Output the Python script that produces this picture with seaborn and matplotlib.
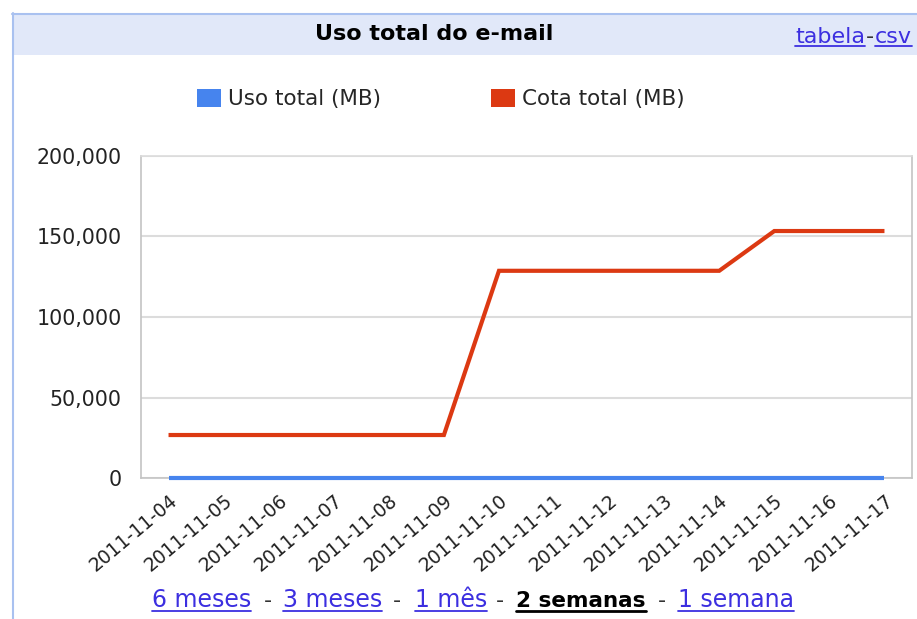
import numpy as np
import pandas as pd
import matplotlib
matplotlib.use("Agg")
import matplotlib.pyplot as plt
import seaborn as sns
from matplotlib.patches import Patch, Rectangle
from matplotlib.lines import Line2D
from matplotlib.ticker import FuncFormatter

# ---------------- data ----------------
dates = ['2011-11-04', '2011-11-05', '2011-11-06', '2011-11-07', '2011-11-08',
         '2011-11-09', '2011-11-10', '2011-11-11', '2011-11-12', '2011-11-13',
         '2011-11-14', '2011-11-15', '2011-11-16', '2011-11-17']
uso_total = [0, 0, 0, 0, 0, 0, 0, 0, 0, 0, 0, 0, 0, 0]
cota_total = [26700, 26700, 26700, 26700, 26700, 26700, 128700, 128700,
              128700, 128700, 128700, 153400, 153400, 153400]
series_names = ['Uso total (MB)', 'Cota total (MB)']
y_ticks = [0, 50000, 100000, 150000, 200000]
chart_title = 'Uso total do e-mail'
header_links = ['tabela', 'csv']
period_links = ['6 meses', '3 meses', '1 mês', '2 semanas', '1 semana']
active_period = '2 semanas'

# ---------------- style ----------------
sns.set_style('white')
plt.rcParams['font.family'] = ['DejaVu Sans']

BLUE = '#4684ee'
RED = '#dc3912'
LINK = '#3c2fe0'
GRID = '#dcdcdc'
AXC = '#c4c4c4'

W, H = 917, 619
fig = plt.figure(figsize=(W / 100, H / 100), dpi=100)
fig.patch.set_facecolor('white')

def fx(px):
    return px / W

def fy(py):
    return 1 - py / H

# header band and borders
fig.patches.append(Rectangle((fx(12), fy(55)), 1 - fx(12), (55 - 13) / H,
                             transform=fig.transFigure, facecolor='#e1e8f9',
                             edgecolor='none', zorder=0))
fig.lines.append(Line2D([fx(12), 1], [fy(13.5), fy(13.5)], transform=fig.transFigure,
                        color='#a9c1f0', lw=1.5))
fig.lines.append(Line2D([fx(12.5), fx(12.5)], [fy(13), 0], transform=fig.transFigure,
                        color='#a9c1f0', lw=1.5))

fig.text(fx(434), fy(40), chart_title, ha='center', va='baseline',
         fontsize=16, fontweight='bold', color='black')

# ---------------- plot ----------------
ax = fig.add_axes([fx(141), fy(478), fx(912) - fx(141), (478 - 156) / H])

df = pd.DataFrame({
    'idx': list(range(len(dates))) * 2,
    'valor': cota_total + uso_total,
    'serie': [series_names[1]] * len(dates) + [series_names[0]] * len(dates),
})
sns.lineplot(data=df, x='idx', y='valor', hue='serie',
             hue_order=[series_names[1], series_names[0]],
             palette={series_names[0]: BLUE, series_names[1]: RED},
             linewidth=3.0, ax=ax, legend=False)
for ln in ax.lines:
    ln.set_clip_on(False)
    ln.set_zorder(4)
    ln.set_solid_capstyle('butt')
    ln.set_solid_joinstyle('miter')

ax.set_xlim(-0.5, len(dates) - 0.5)
ax.set_ylim(y_ticks[0], y_ticks[-1])
ax.set_xlabel('')
ax.set_ylabel('')

ax.set_xticks(range(len(dates)))
ax.set_xticklabels(dates, rotation=40, ha='right', rotation_mode='anchor',
                   fontsize=13.5, color='#222222')
ax.tick_params(axis='x', which='major', length=0, pad=9)
ax.set_xticks(np.arange(-0.5, len(dates), 1.0), minor=True)
ax.tick_params(axis='x', which='minor', length=6, width=1, color=AXC)

ax.set_yticks(y_ticks)
ax.yaxis.set_major_formatter(FuncFormatter(lambda v, p: f'{v:,.0f}'))
ax.tick_params(axis='y', length=6, width=1, color=AXC, pad=8,
               labelsize=14.8, labelcolor='#222222')

ax.grid(axis='y', color=GRID, lw=1.5)
ax.grid(axis='x', visible=False)
ax.set_axisbelow(True)
for s in ax.spines.values():
    s.set_color(AXC)
    s.set_linewidth(1.2)
    s.set_visible(True)
ax.spines['top'].set_color(GRID)

# legend
handles = [Patch(facecolor=BLUE, edgecolor='none'), Patch(facecolor=RED, edgecolor='none')]
ax.legend(handles=handles, labels=series_names, ncol=2, loc='center left',
          bbox_to_anchor=(fx(197), fy(99)), bbox_transform=fig.transFigure,
          frameon=False, fontsize=15.5, handlelength=1.1, handleheight=0.95,
          handletextpad=0.35, columnspacing=5.1, borderpad=0, borderaxespad=0)

# ---------------- link texts ----------------
texts_to_underline = []

t1 = fig.text(fx(795), fy(43), header_links[0], ha='left', va='baseline',
              fontsize=16, color=LINK)
fig.canvas.draw()
r = fig.canvas.get_renderer()
bb = t1.get_window_extent(r)
th = fig.text(bb.x1 / W + fx(1), fy(43), '-', ha='left', va='baseline',
              fontsize=16, color='#333333')
bb2 = th.get_window_extent(r)
t2 = fig.text(bb2.x1 / W + fx(1), fy(43), header_links[1], ha='left', va='baseline',
              fontsize=16, color=LINK)
texts_to_underline += [(t1, LINK, 46, 1.3), (t2, LINK, 46, 1.3)]

link_lefts = [152, 283, 415, 516, 678]
dash_centers = [268, 397, 500, 662]
for name, left in zip(period_links, link_lefts):
    active = (name == active_period)
    t = fig.text(fx(left), fy(607), name, ha='left', va='baseline',
                 fontsize=15.5 if active else 17,
                 color='black' if active else LINK,
                 fontweight='bold' if active else 'normal')
    texts_to_underline.append((t, 'black' if active else LINK, 611, 2.0 if active else 1.3))
for c in dash_centers:
    fig.text(fx(c), fy(607), '-', ha='center', va='baseline', fontsize=16, color='#333333')

fig.canvas.draw()
r = fig.canvas.get_renderer()
for t, col, ypx, lw in texts_to_underline:
    b = t.get_window_extent(r)
    fig.lines.append(Line2D([b.x0 / W, b.x1 / W], [fy(ypx), fy(ypx)],
                            transform=fig.transFigure, color=col, lw=lw))

fig.savefig('out.png', dpi=100)
